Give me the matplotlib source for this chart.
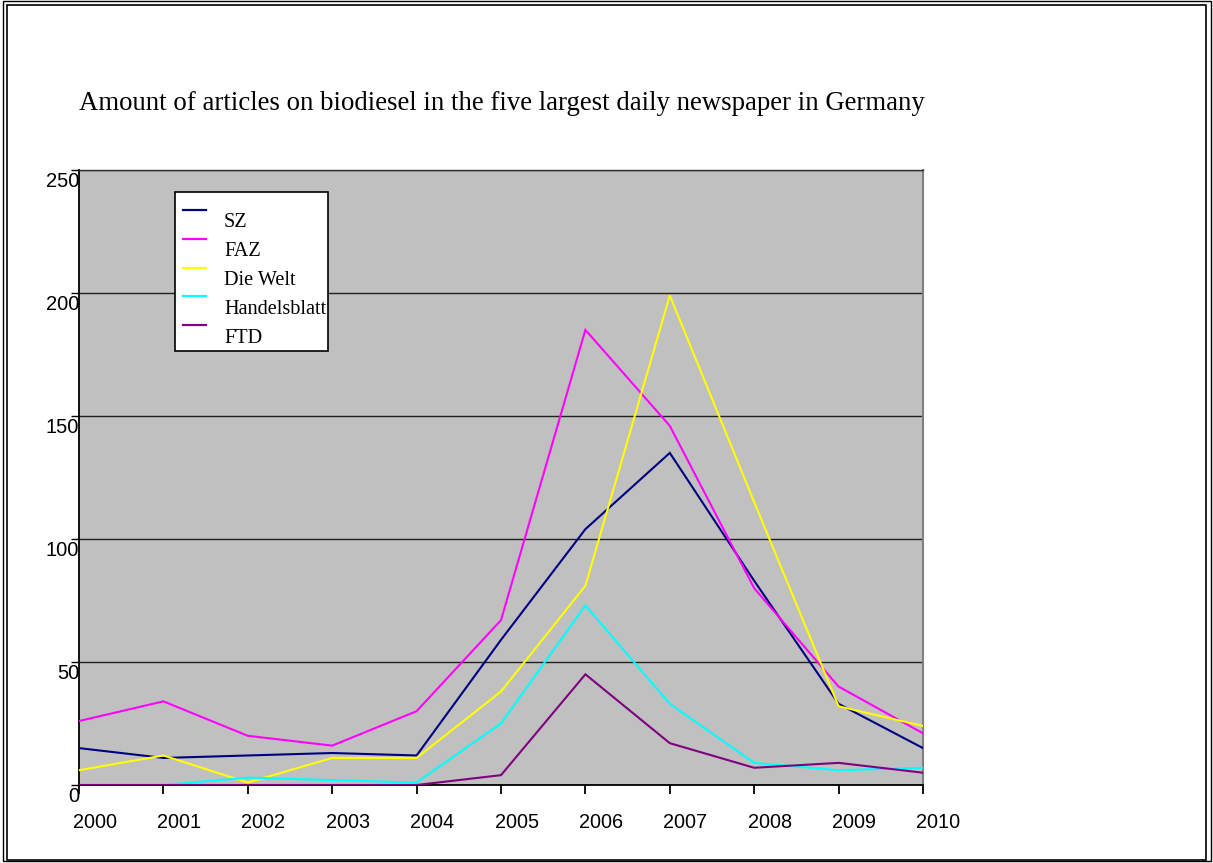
import matplotlib
matplotlib.use("Agg")
import matplotlib.pyplot as plt
from matplotlib.patches import Rectangle
from matplotlib.lines import Line2D
from matplotlib.transforms import ScaledTranslation

# ---- data ----
years = [2000, 2001, 2002, 2003, 2004, 2005, 2006, 2007, 2008, 2009, 2010]
sz = [15, 11, 12, 13, 12, 59, 104, 135, 83, 33, 15]
faz = [26, 34, 20, 16, 30, 67, 185, 146, 80, 40, 21]
welt = [6, 12, 1, 11, 11, 38, 81, 199, 115, 32, 24]
handelsblatt = [0, 0, 3, 2, 1, 25, 73, 33, 9, 6, 7]
ftd = [0, 0, 0, 0, 0, 4, 45, 17, 7, 9, 5]
series_names = ["SZ", "FAZ", "Die Welt", "Handelsblatt", "FTD"]
series_values = [sz, faz, welt, handelsblatt, ftd]
series_colors = ["#000080", "#FF00FF", "#FFFF00", "#00FFFF", "#800080"]
y_ticks = [0, 50, 100, 150, 200, 250]
title = "Amount of articles on biodiesel in the five largest daily newspaper in Germany"

W, H = 1213, 863
DPI = 100
fig = plt.figure(figsize=(W / DPI, H / DPI), dpi=DPI)
fig.patch.set_facecolor("white")

def fx(x):
    return x / W

def fy(y):
    return 1 - y / H

# plot area in pixels
L, R, T, B = 79, 923, 170, 785
ax = fig.add_axes([fx(L), fy(B), fx(R) - fx(L), (B - T) / H])
ax.set_facecolor("#C0C0C0")
ax.set_xlim(2000, 2010)
ax.set_ylim(0, 250)

for name, vals, col in zip(series_names, series_values, series_colors):
    ax.plot(years, vals, color=col, lw=1.5, solid_joinstyle="miter", zorder=3)

# grid
ax.set_yticks(y_ticks)
ax.yaxis.grid(True, color="#202020", lw=1.0, zorder=1)
ax.set_axisbelow(True)

# spines
ax.spines["left"].set_color("black")
ax.spines["left"].set_linewidth(1.3)
ax.spines["bottom"].set_color("black")
ax.spines["bottom"].set_linewidth(1.3)
ax.spines["top"].set_color("#303030")
ax.spines["top"].set_linewidth(1.0)
ax.spines["right"].set_color("#808080")
ax.spines["right"].set_linewidth(1.5)

# x ticks
ax.set_xticks(years)
ax.set_xticklabels([str(y) for y in years], fontfamily="Liberation Sans", fontsize=14.3)
ax.tick_params(axis="x", direction="out", length=6.5, width=1.3, pad=13.5, colors="black")
for lab in ax.get_xticklabels():
    lab.set_transform(lab.get_transform() + ScaledTranslation(15.5 / DPI, 0, fig.dpi_scale_trans))

# y ticks
tick_len = 5.5
ax.set_yticklabels([str(v) for v in y_ticks], fontfamily="Liberation Sans", fontsize=14.5)
ax.tick_params(axis="y", direction="out", length=tick_len, width=1.0, pad=-tick_len, colors="black")
for lab in ax.get_yticklabels():
    lab.set_verticalalignment("top")
    lab.set_transform(lab.get_transform() + ScaledTranslation(0, -2 / DPI, fig.dpi_scale_trans))

# title
fig.text(fx(79), fy(110), title, fontfamily="Liberation Serif", fontsize=19.3,
         va="baseline", ha="left", color="black")

# legend (manual, in figure pixel positions)
fig.patches.append(Rectangle((fx(175), fy(351)), fx(328) - fx(175), (351 - 192) / H,
                             transform=fig.transFigure, facecolor="white",
                             edgecolor="black", lw=1.2, zorder=5))
for i, (name, col) in enumerate(zip(series_names, series_colors)):
    ly = 210 + 28.8 * i
    fig.lines.append(Line2D([fx(183), fx(206)], [fy(ly), fy(ly)], transform=fig.transFigure,
                            color=col, lw=1.6, zorder=6))
    fig.text(fx(224), fy(227 + 29 * i), name, fontfamily="Liberation Serif", fontsize=14.6,
             va="baseline", ha="left", color="black", zorder=6)

# figure frame (double border)
fig.patches.append(Rectangle((fx(3), fy(861)), fx(1211) - fx(3), (861 - 1) / H,
                             transform=fig.transFigure, fill=False, edgecolor="black", lw=1.0))
fig.patches.append(Rectangle((fx(7), fy(860)), fx(1206) - fx(7), (860 - 5) / H,
                             transform=fig.transFigure, fill=False, edgecolor="black", lw=1.2))

fig.savefig("out.png", dpi=DPI, facecolor="white")
